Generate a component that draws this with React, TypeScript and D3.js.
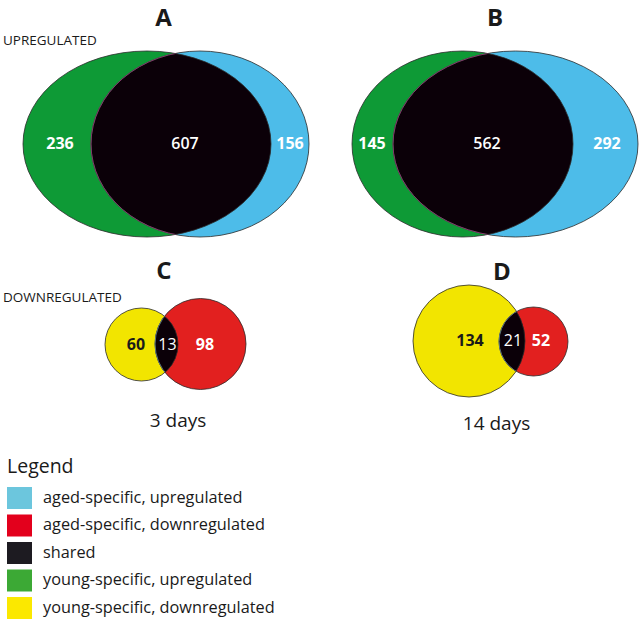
import React from "react";
import * as d3 from "d3";

// ---------- data ----------
const panelLetters = ["A", "B", "C", "D"];
const timepoints = ["3 days", "14 days"];
const upYoung = [236, 145];
const upShared = [607, 562];
const upAged = [156, 292];
const downYoung = [60, 134];
const downShared = [13, 21];
const downAged = [98, 52];
const rowLabels = ["UPREGULATED", "DOWNREGULATED"];
const legendTitle = "Legend";
const legendLabels = [
  "aged-specific, upregulated",
  "aged-specific, downregulated",
  "shared",
  "young-specific, upregulated",
  "young-specific, downregulated",
];

// ---------- styles ----------
const C = {
  cyan: "#4dbce9",
  green: "#0e9a36",
  black: "#0b0008",
  yellow: "#f2e500",
  red: "#e2201f",
};
const legendColors = ["#6cc6dd", "#e3001c", "#1d1b21", "#3ca935", "#fbe800"];
const FONT = "'Open Sans', 'Noto Sans', sans-serif";

// ---------- layout (venn shape geometry per panel) ----------
type Shape = { cx: number; cy: number; rx: number; ry: number };
const layout = [
  { left: { cx: 147, cy: 144, rx: 124, ry: 93 }, right: { cx: 200, cy: 144, rx: 109, ry: 93 }, letter: [163.5, 26], lab: [60, 185, 290], ly: 149 },
  { left: { cx: 462.5, cy: 144, rx: 110.5, ry: 93 }, right: { cx: 515.5, cy: 144, rx: 122.5, ry: 93 }, letter: [495, 26], lab: [372, 487, 607], ly: 149 },
  { left: { cx: 141.5, cy: 344.5, rx: 36.5, ry: 36.5 }, right: { cx: 200.5, cy: 344, rx: 45.5, ry: 45.5 }, letter: [164, 279], lab: [136, 167.5, 205], ly: 350 },
  { left: { cx: 469, cy: 341, rx: 56, ry: 56 }, right: { cx: 533.5, cy: 341.5, rx: 34.5, ry: 34.5 }, letter: [502, 280], lab: [470, 513, 541], ly: 346 },
];

type Panel = {
  letter: string;
  values: number[];
  colors: [string, string];
  numColors: [string, string, string];
  numWeights: [number, number, number];
  interStroke: string;
};

const panels: Panel[] = [
  ...[0, 1].map((i) => ({
    letter: panelLetters[i],
    values: [upYoung[i], upShared[i], upAged[i]],
    colors: [C.green, C.cyan] as [string, string],
    numColors: ["#fff", "#fff", "#fff"] as [string, string, string],
    numWeights: [700, 600, 700] as [number, number, number],
    interStroke: "#8a3d6e",
  })),
  ...[0, 1].map((i) => ({
    letter: panelLetters[i + 2],
    values: [downYoung[i], downShared[i], downAged[i]],
    colors: [C.yellow, C.red] as [string, string],
    numColors: ["#1a1a1a", "#fff", "#fff"] as [string, string, string],
    numWeights: [700, 500, 700] as [number, number, number],
    interStroke: "#5f7f86",
  })),
];

function E({ s, ...rest }: { s: Shape; [k: string]: any }) {
  return <ellipse cx={s.cx} cy={s.cy} rx={s.rx} ry={s.ry} {...rest} />;
}

function Venn({ p, idx }: { p: Panel; idx: number }) {
  const g = layout[idx];
  const L = g.left as Shape;
  const R = g.right as Shape;
  const clipId = `clip-${idx}`;
  return (
    <g>
      <defs>
        <clipPath id={clipId}>
          <E s={L} />
        </clipPath>
      </defs>
      <E s={L} fill={p.colors[0]} />
      <E s={R} fill={p.colors[1]} />
      <E s={R} fill={C.black} clipPath={`url(#${clipId})`} />
      <E s={L} fill="none" stroke="#2b2b2b" strokeWidth={0.8} />
      <E s={R} fill="none" stroke="#2b2b2b" strokeWidth={0.8} />
      <E s={R} fill="none" stroke={p.interStroke} strokeWidth={0.9} clipPath={`url(#${clipId})`} />
      <text x={g.letter[0]} y={g.letter[1]} textAnchor="middle" fontFamily={FONT} fontWeight={700} fontSize={24} fill="#1a1a1a">
        {p.letter}
      </text>
      {p.values.map((v, k) => (
        <text
          key={k}
          x={g.lab[k]}
          y={g.ly}
          textAnchor="middle"
          fontFamily={FONT}
          fontWeight={p.numWeights[k]}
          fontSize={16}
          fill={p.numColors[k]}
        >
          {v}
        </text>
      ))}
    </g>
  );
}

export default function App() {
  const legendY = d3.scaleLinear().domain([0, 4]).range([487, 597]);
  return (
    <svg width={642} height={624} style={{ position: "absolute", left: 0, top: 0, background: "#fff" }}>
      <rect width={642} height={624} fill="#fff" />
      {panels.map((p, i) => (
        <Venn key={i} p={p} idx={i} />
      ))}
      <text x={3} y={45} fontFamily={FONT} fontSize={13.5} fill="#1a1a1a">{rowLabels[0]}</text>
      <text x={3} y={302} fontFamily={FONT} fontSize={13.5} fill="#1a1a1a">{rowLabels[1]}</text>
      <text x={178} y={427} textAnchor="middle" fontFamily={FONT} fontSize={19} fill="#1a1a1a">{timepoints[0]}</text>
      <text x={496.5} y={430} textAnchor="middle" fontFamily={FONT} fontSize={19} fill="#1a1a1a">{timepoints[1]}</text>
      <text x={7} y={473} fontFamily={FONT} fontSize={19.5} fill="#1a1a1a">{legendTitle}</text>
      {legendLabels.map((lab, i) => (
        <g key={i}>
          <rect x={7} y={legendY(i)} width={25} height={22} fill={legendColors[i]} />
          <text x={43} y={legendY(i) + 15.5} fontFamily={FONT} fontSize={16.3} fill="#1a1a1a">{lab}</text>
        </g>
      ))}
    </svg>
  );
}
